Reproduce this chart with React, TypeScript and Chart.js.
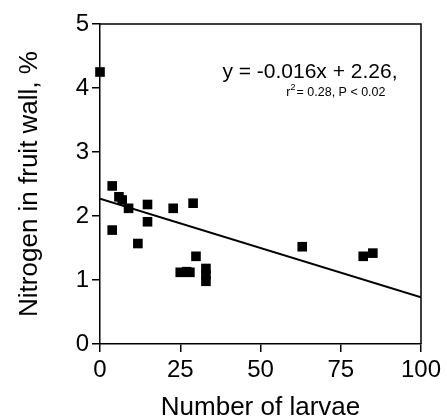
import React, { useEffect, useRef } from "react";
import { Chart, registerables } from "chart.js";

Chart.register(...registerables);

const larvae = [0, 3.8, 5.9, 6.9, 8.9, 3.8, 11.8, 14.8, 14.8, 22.8, 29.0, 29.9, 25, 27, 28, 33, 33, 33, 63, 82, 85];
const nitrogen = [4.25, 2.47, 2.3, 2.25, 2.12, 1.78, 1.57, 2.18, 1.91, 2.12, 2.2, 1.37, 1.12, 1.13, 1.12, 1.18, 1.08, 0.98, 1.52, 1.37, 1.42];
const fitX = [0, 100];
const fitY = [2.27, 0.73];
const xTicks = [0, 25, 50, 75, 100];
const yTicks = [0, 1, 2, 3, 4, 5];
const equationLine = "y = -0.016x + 2.26,";
const statsLine = "= 0.28, P < 0.02";

const FONT = "'Liberation Sans', Arial, Helvetica, sans-serif";

const framePlugin = {
  id: "frame",
  afterDraw(chart: any) {
    const { ctx, chartArea } = chart;
    const { left, top, right, bottom } = chartArea;
    ctx.save();
    ctx.strokeStyle = "#000";
    ctx.lineWidth = 1.5;
    ctx.beginPath();
    ctx.moveTo(left, top);
    ctx.lineTo(right, top);
    ctx.lineTo(right, bottom);
    ctx.stroke();

    const xs = chart.scales.x;
    const ys = chart.scales.y;
    ctx.fillStyle = "#000";
    ctx.textBaseline = "middle";
    ctx.textAlign = "center";
    ctx.font = `21px ${FONT}`;
    ctx.fillText(equationLine, xs.getPixelForValue(65.4), ys.getPixelForValue(4.25));

    // second line: r² = ...
    ctx.font = `12.5px ${FONT}`;
    const restW = ctx.measureText(statsLine).width;
    const rW = ctx.measureText("r").width;
    ctx.font = `9px ${FONT}`;
    const supW = ctx.measureText("2").width;
    const total = rW + supW + 1 + restW;
    const cx = xs.getPixelForValue(73.5);
    const cy = ys.getPixelForValue(3.93);
    let sx = cx - total / 2;
    ctx.textAlign = "left";
    ctx.font = `12.5px ${FONT}`;
    ctx.fillText("r", sx, cy);
    sx += rW;
    ctx.font = `9px ${FONT}`;
    ctx.fillText("2", sx, cy - 5);
    sx += supW + 1;
    ctx.font = `12.5px ${FONT}`;
    ctx.fillText(statsLine, sx, cy);
    ctx.restore();
  },
};

export default function App() {
  const ref = useRef<HTMLCanvasElement | null>(null);
  useEffect(() => {
    if (!ref.current) return;
    const points = larvae.map((x, i) => ({ x, y: nitrogen[i] }));
    const fit = fitX.map((x, i) => ({ x, y: fitY[i] }));
    const chart = new Chart(ref.current, {
      type: "scatter",
      data: {
        datasets: [
          {
            label: "fit",
            data: fit,
            showLine: true,
            borderColor: "#000",
            borderWidth: 2,
            pointRadius: 0,
            fill: false,
          } as any,
          {
            label: "data",
            data: points,
            pointStyle: "rect",
            pointRadius: 6.8,
            backgroundColor: "#000",
            borderColor: "#000",
            borderWidth: 0,
            clip: false,
          } as any,
        ],
      },
      options: {
        animation: false,
        responsive: true,
        maintainAspectRatio: false,
        layout: { padding: { top: 24, right: 26, left: 0, bottom: 0 } },
        plugins: { legend: { display: false }, tooltip: { enabled: false } },
        scales: {
          x: {
            type: "linear",
            min: 0,
            max: 100,
            afterBuildTicks: (s: any) => {
              s.ticks = xTicks.map((v) => ({ value: v }));
            },
            afterFit: (s: any) => {
              s.height = 74;
            },
            ticks: { color: "#000", font: { family: FONT, size: 24 }, padding: 4 },
            grid: { drawOnChartArea: false, color: "#000", lineWidth: 1.5, tickLength: 8 },
            border: { color: "#000", width: 1.5 },
            title: {
              display: true,
              text: "Number of larvae",
              color: "#000",
              font: { family: FONT, size: 26, lineHeight: 0.8 },
              padding: { top: 0, bottom: 0 },
            },
          },
          y: {
            type: "linear",
            min: 0,
            max: 5,
            afterBuildTicks: (s: any) => {
              s.ticks = yTicks.map((v) => ({ value: v }));
            },
            afterFit: (s: any) => {
              s.width = 100;
            },
            ticks: { color: "#000", font: { family: FONT, size: 24 }, padding: 3 },
            grid: { drawOnChartArea: false, color: "#000", lineWidth: 1.5, tickLength: 8 },
            border: { color: "#000", width: 1.5 },
            title: {
              display: true,
              text: "Nitrogen in fruit wall, %",
              color: "#000",
              font: { family: FONT, size: 26, lineHeight: 1 },
              padding: { top: 17, bottom: 0 },
            },
          },
        },
      },
      plugins: [framePlugin],
    });
    return () => chart.destroy();
  }, []);
  return (
    <div style={{ position: "fixed", left: 0, top: 0, width: 447, height: 418, background: "#fff" }}>
      <canvas ref={ref} />
    </div>
  );
}
